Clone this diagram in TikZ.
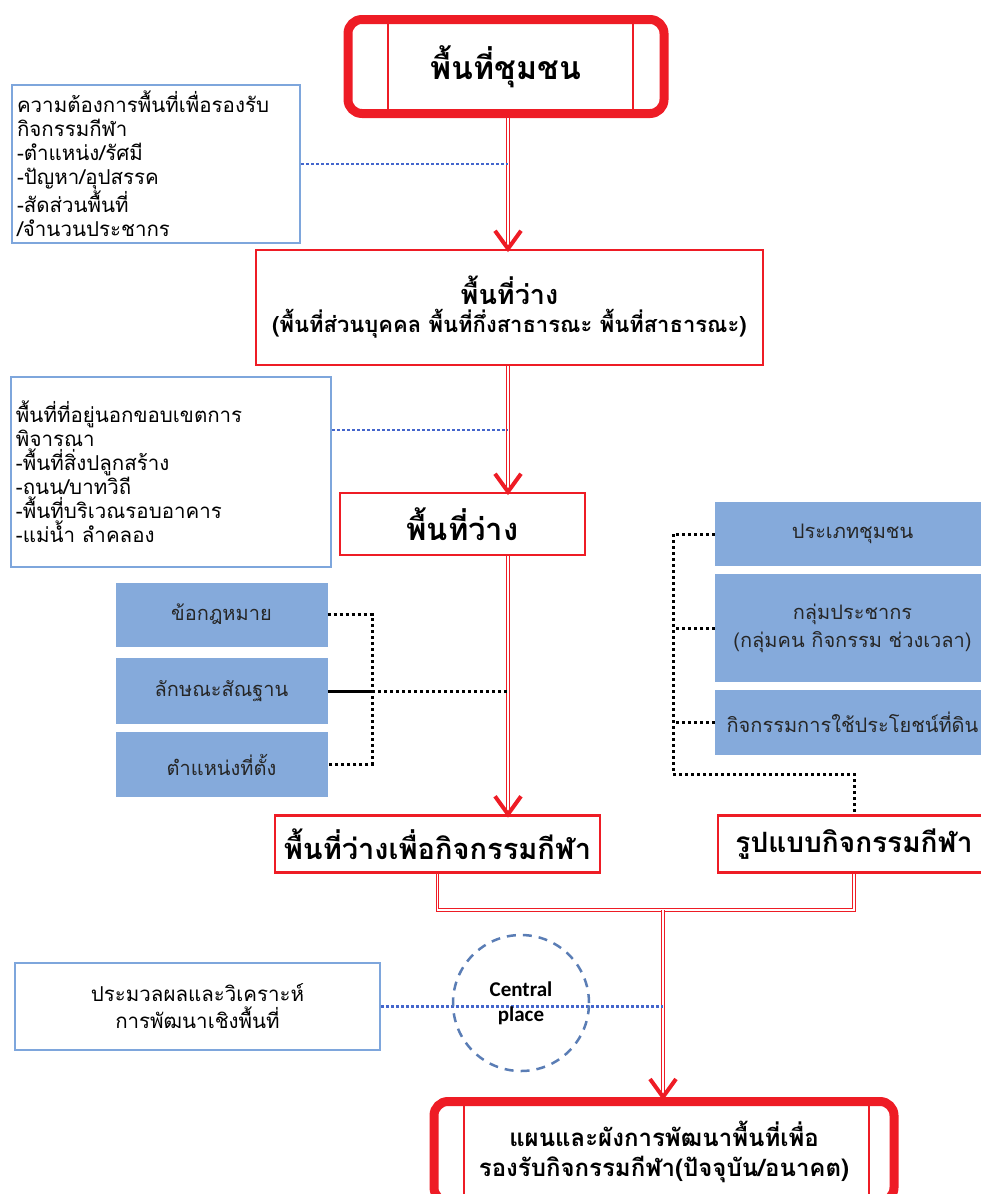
\documentclass[tikz,border=0pt]{standalone}
\usepackage{fontspec}
\setmainfont[Script=Thai]{Loma}
\newfontfamily\latinsans{Carlito}
\usetikzlibrary{calc}
\definecolor{myred}{HTML}{EE1C25}
\definecolor{bline}{HTML}{7EA6DC}
\definecolor{bfill}{HTML}{85AADB}
\definecolor{bdot}{HTML}{4466CC}
\definecolor{cdash}{HTML}{5A7DB5}
\tikzset{
  redbox/.style={draw=myred, line width=2.5pt, fill=white, inner sep=2pt, align=center, font=\bfseries},
  topbox/.style={draw=myred, line width=9pt, rounded corners=14pt, fill=white, align=center, font=\bfseries},
  bluebox/.style={draw=bline, line width=2pt, fill=white, inner xsep=5pt},
  fillbox/.style={fill=bfill, draw=none, align=center, text=black!85},
  dbl/.style={draw=myred, line width=0.9pt, double=white, double distance=1.8pt},
  vtip/.style={draw=myred, line width=4pt},
  bluedot/.style={draw=bdot, line width=2.5pt, dash pattern=on 2.5pt off 2.5pt},
  blackdot/.style={draw=black, line width=3pt, dash pattern=on 3pt off 3pt},
  innerline/.style={draw=myred, line width=2pt}
}
\begin{document}
\begin{tikzpicture}[x=1pt,y=-1pt]
\useasboundingbox (0,0) rectangle (981,1194);
\coordinate (col) at (508,0);
\coordinate (col2) at (663,0);
% top
\node[topbox, minimum width=316, minimum height=94, font=\bfseries\fontsize{32}{36}\selectfont] (top) at (506,66.5) {พื้นที่ชุมชน};
\draw[innerline] ($(top.north west)+(44,0)$) -- ($(top.south west)+(44,0)$);
\draw[innerline] ($(top.north east)+(-36,0)$) -- ($(top.south east)+(-36,0)$);
% left box 1
\node[bluebox, anchor=north west, text width=278, minimum height=158, align=left, font=\fontsize{20.5}{24}\selectfont] (lb1) at (11,84)
 {ความต้องการพื้นที่เพื่อรองรับ\\กิจกรรมกีฬา\\-ตำแหน่ง/รัศมี\\-ปัญหา/อุปสรรค\\-สัดส่วนพื้นที่\\/จำนวนประชากร};
% box 2
\node[redbox, minimum width=507, minimum height=115, font=\bfseries\fontsize{27}{28}\selectfont] (b2) at (509.5,307.5)
 {พื้นที่ว่าง\\{\fontsize{22}{28}\selectfont (พื้นที่ส่วนบุคคล พื้นที่กึ่งสาธารณะ พื้นที่สาธารณะ)}};
\draw[dbl] (col |- top.south) -- (col |- b2.north);
\draw[vtip] ($(col |- b2.north)+(-13,-18)$) -- (col |- b2.north) -- ($(col |- b2.north)+(13,-18)$);
\draw[bluedot] (lb1.east) -- (col |- lb1.east);
% left box 2
\node[bluebox, anchor=north west, text width=310, minimum height=190, align=left, font=\fontsize{20.5}{24}\selectfont] (lb2) at (10,376)
 {พื้นที่ที่อยู่นอกขอบเขตการ\\พิจารณา\\-พื้นที่สิ่งปลูกสร้าง\\-ถนน/บาทวิถี\\-พื้นที่บริเวณรอบอาคาร\\-แม่น้ำ ลำคลอง};
% box 3
\node[redbox, minimum width=245, minimum height=62, font=\bfseries\fontsize{31}{34}\selectfont] (b3) at (462.5,524) {พื้นที่ว่าง};
\draw[dbl] (col |- b2.south) -- (col |- b3.north);
\draw[vtip] ($(col |- b3.north)+(-13,-18)$) -- (col |- b3.north) -- ($(col |- b3.north)+(13,-18)$);
\coordinate (d2) at (0,430);
\draw[bluedot] (lb2.east |- d2) -- (col |- d2);
% box 4 and 5
\node[redbox, minimum width=325, minimum height=57, font=\bfseries\fontsize{29}{32}\selectfont] (b4) at (437.5,844) {พื้นที่ว่างเพื่อกิจกรรมกีฬา};
\node[redbox, minimum width=272, minimum height=57, font=\bfseries\fontsize{28}{32}\selectfont] (b5) at (854,844) {รูปแบบกิจกรรมกีฬา};
\draw[dbl] (col |- b3.south) -- (col |- b4.north);
\draw[vtip] ($(col |- b4.north)+(-13,-18)$) -- (col |- b4.north) -- ($(col |- b4.north)+(13,-18)$);
% left filled boxes
\node[fillbox, minimum width=212, minimum height=64, font=\fontsize{20}{24}\selectfont] (l1) at (221.5,614.5) {ข้อกฎหมาย};
\node[fillbox, minimum width=212, minimum height=66, font=\fontsize{20}{24}\selectfont] (l2) at (221.5,691) {ลักษณะสัณฐาน};
\node[fillbox, minimum width=212, minimum height=65, font=\fontsize{20}{24}\selectfont] (l3) at (221.5,764.5) {ตำแหน่งที่ตั้ง};
\coordinate (lv) at (372,0);
\draw[blackdot] (l1.east) -- (lv |- l1.east) -- (lv |- l3.east) -- (l3.east);
\draw[black, line width=3pt] (l2.east) -- (lv |- l2.east);
\draw[blackdot] (lv |- l2.east) -- (col |- l2.east);
% right filled boxes
\node[fillbox, minimum width=275, minimum height=64, font=\fontsize{20}{24}\selectfont] (r1) at (852.5,534) {ประเภทชุมชน};
\node[fillbox, minimum width=275, minimum height=108, font=\fontsize{20}{28}\selectfont] (r2) at (852.5,628) {กลุ่มประชากร\\(กลุ่มคน กิจกรรม ช่วงเวลา)};
\node[fillbox, minimum width=275, minimum height=65, font=\fontsize{20}{24}\selectfont] (r3) at (852.5,722.5) {กิจกรรมการใช้ประโยชน์ที่ดิน};
\coordinate (rv) at (673,0);
\coordinate (jr) at (0,774);
\draw[blackdot] (r1.west) -- (rv |- r1.west) -- (rv |- jr) -- (b5.north |- jr) -- (b5.north);
\draw[blackdot] (r2.west) -- (rv |- r2.west);
\draw[blackdot] (r3.west) -- (rv |- r3.west);
% final box
\node[topbox, minimum width=460, minimum height=100, font=\bfseries\fontsize{24}{30}\selectfont] (fin) at (664,1151.5)
 {แผนและผังการพัฒนาพื้นที่เพื่อ\\รองรับกิจกรรมกีฬา(ปัจจุบัน/อนาคต)};
\draw[innerline] ($(fin.north west)+(34,0)$) -- ($(fin.south west)+(34,0)$);
\draw[innerline] ($(fin.north east)+(-30,0)$) -- ($(fin.south east)+(-30,0)$);
\coordinate (jy) at (0,910);
\draw[dbl] (b4.south) -- (b4.south |- jy) -- (b5.south |- jy) -- (b5.south);
\draw[dbl] (col2 |- jy) -- (col2 |- fin.north);
\draw[vtip] ($(col2 |- fin.north)+(-13,-18)$) -- (col2 |- fin.north) -- ($(col2 |- fin.north)+(13,-18)$);
% bottom left
\node[bluebox, minimum width=365, minimum height=87, align=center, font=\fontsize{20.5}{27}\selectfont] (lb3) at (197.5,1006.5)
 {ประมวลผลและวิเคราะห์\\การพัฒนาเชิงพื้นที่};
\draw[bluedot] (lb3.east) -- (col2 |- lb3.east);
\node[circle, draw=cdash, line width=2.5pt, dash pattern=on 9pt off 7pt, minimum size=136, align=center, font=\latinsans\bfseries\fontsize{21}{25}\selectfont] (circ) at (521,1003) {Central\\place};
\end{tikzpicture}
\end{document}
